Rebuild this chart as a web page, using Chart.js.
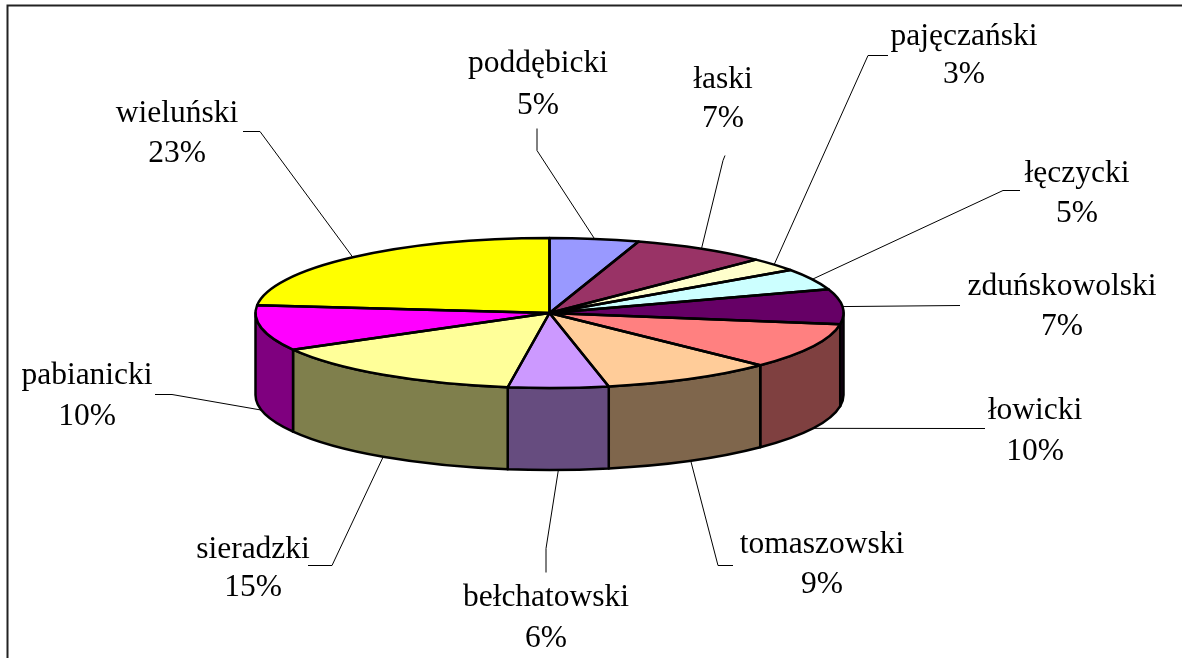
<!DOCTYPE html>
<html>
<head>
<meta charset="utf-8">
<script src="https://cdn.jsdelivr.net/npm/chart.js@4"></script>
<style>
html, body { margin: 0; padding: 0; background: #fff; overflow: hidden; }
canvas { display: block; }
</style>
</head>
<body>
<canvas id="pie" width="1182" height="659"></canvas>
<script>
var categories = ['poddębicki', 'łaski', 'pajęczański', 'łęczycki', 'zduńskowolski', 'łowicki', 'tomaszowski', 'bełchatowski', 'sieradzki', 'pabianicki', 'wieluński'];
// estimated shares, the picture only prints them rounded
var shares = [4.9, 7.49, 2.9, 4.6, 7.49, 9.9, 9.49, 5.5, 14.6, 9.8, 23.33];
var topColors = ['#9999ff', '#993366', '#ffffcc', '#ccffff', '#660066', '#ff8080', '#ffcc99', '#cc99ff', '#ffff99', '#ff00ff', '#ffff00'];

// label layout: centre x, baseline of first line, baseline of second line
var labelX = [538, 723, 964, 1077, 1062, 1035, 822, 546, 253, 87, 177];
var labelY1 = [72, 88, 45, 182, 295, 419, 553, 606, 558, 384, 122];
var labelY2 = [114, 127, 83, 222, 335, 460, 593, 647, 596, 425, 162];
// leader lines run from here to the edge of the slice
var leaderPaths = [
    [[537, 128], [537, 150]],
    [[725, 155], [723, 160]],
    [[888, 55], [868, 55]],
    [[1020, 190], [1003, 190]],
    [[960, 305]],
    [[985, 428], [965, 428]],
    [[733, 565], [718, 565]],
    [[546, 572], [546, 548]],
    [[308, 565], [332, 565]],
    [[155, 394], [172, 394]],
    [[243, 131], [260, 131]]
];

var pieY = 313;
var tilt = 75 / 294;
var depth = 82;

function halfColor(hex) {
    var n = parseInt(hex.slice(1), 16);
    return 'rgb(' + ((n >> 16) >> 1) + ',' + (((n >> 8) & 255) >> 1) + ',' + ((n & 255) >> 1) + ')';
}

function arcsOf(chart) {
    return chart.getDatasetMeta(0).data;
}

var pie3d = {
    id: 'pie3d',
    beforeDraw: function (chart) {
        // frame of the original, only top and left are in the picture
        var ctx = chart.ctx;
        ctx.save();
        ctx.strokeStyle = '#222';
        ctx.lineWidth = 2;
        ctx.beginPath();
        ctx.moveTo(1182, 5.5);
        ctx.lineTo(7.5, 5.5);
        ctx.lineTo(7.5, 658);
        ctx.stroke();
        ctx.restore();
    },
    beforeDatasetsDraw: function (chart) {
        var ctx = chart.ctx;
        ctx.save();
        ctx.lineWidth = 2.5;
        ctx.strokeStyle = '#000';
        ctx.lineJoin = 'round';
        // walls, only the front half of the pie has one
        arcsOf(chart).forEach(function (arc, i) {
            var a = Math.max(arc.startAngle, 0);
            var b = Math.min(arc.endAngle, Math.PI);
            if (b <= a) return;
            var r = arc.outerRadius;
            ctx.beginPath();
            ctx.ellipse(arc.x, pieY, r, r * tilt, 0, a, b);
            ctx.ellipse(arc.x, pieY + depth, r, r * tilt, 0, b, a, true);
            ctx.closePath();
            ctx.fillStyle = halfColor(topColors[i]);
            ctx.fill();
            ctx.stroke();
        });
        ctx.restore();

        // squash the circle the library draws into the top of the cake
        var first = arcsOf(chart)[0];
        ctx.save();
        ctx.translate(first.x, pieY);
        ctx.scale(1, tilt);
        ctx.translate(-first.x, -first.y);
    },
    afterDatasetsDraw: function (chart) {
        var ctx = chart.ctx;
        ctx.restore();

        ctx.save();
        ctx.lineWidth = 2.5;
        ctx.strokeStyle = '#000';
        ctx.lineJoin = 'round';
        arcsOf(chart).forEach(function (arc) {
            var r = arc.outerRadius;
            ctx.beginPath();
            ctx.moveTo(arc.x, pieY);
            ctx.ellipse(arc.x, pieY, r, r * tilt, 0, arc.startAngle, arc.endAngle);
            ctx.closePath();
            ctx.stroke();
        });

        // leaders and labels
        ctx.lineWidth = 1;
        ctx.fillStyle = '#000';
        ctx.font = '31.5px "Liberation Serif"';
        ctx.textAlign = 'center';
        ctx.textBaseline = 'alphabetic';
        arcsOf(chart).forEach(function (arc, i) {
            var mid = (arc.startAngle + arc.endAngle) / 2;
            var r = arc.outerRadius;
            var endX = arc.x + r * Math.cos(mid);
            var endY = pieY + r * tilt * Math.sin(mid);
            if (Math.sin(mid) > 0 && Math.abs(Math.cos(mid)) < 0.99) endY += depth;
            ctx.beginPath();
            leaderPaths[i].forEach(function (p, k) {
                if (k == 0) ctx.moveTo(p[0], p[1] + 0.5);
                else ctx.lineTo(p[0], p[1] + 0.5);
            });
            ctx.lineTo(endX, endY);
            ctx.stroke();

            ctx.fillText(categories[i], labelX[i], labelY1[i]);
            ctx.fillText(Math.round(shares[i]) + '%', labelX[i], labelY2[i]);
        });
        ctx.restore();
    }
};

var chart = new Chart(document.getElementById('pie'), {
    type: 'pie',
    data: {
        labels: categories,
        datasets: [{
            data: shares,
            backgroundColor: topColors,
            borderWidth: 0
        }]
    },
    options: {
        responsive: false,
        animation: false,
        layout: { padding: { left: 255.5, right: 338.5, top: 35, bottom: 36 } },
        plugins: {
            legend: { display: false },
            tooltip: { enabled: false }
        }
    },
    plugins: [pie3d]
});
</script>
</body>
</html>
